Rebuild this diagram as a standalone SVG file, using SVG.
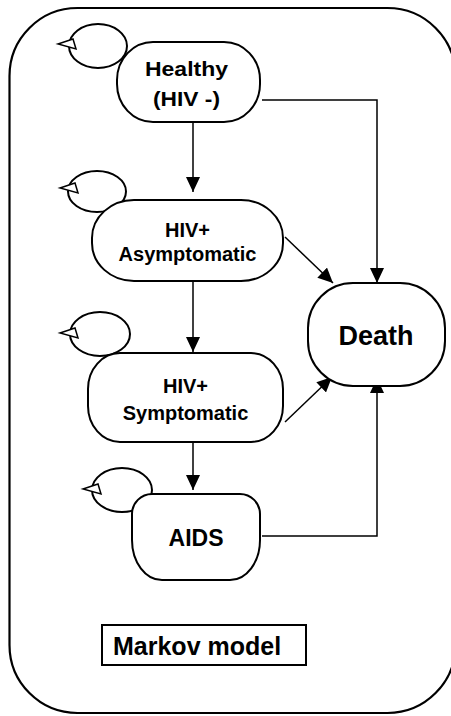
<svg xmlns="http://www.w3.org/2000/svg" width="451" height="716" viewBox="0 0 451 716">
<style>
.frame{fill:none;stroke:#000;stroke-width:2.2}
.node{fill:#fff;stroke:#000;stroke-width:2}
.loop{fill:none;stroke:#000;stroke-width:2}
.loophead{fill:#fff;stroke:#000;stroke-width:1.5;stroke-linejoin:miter}
.edge{fill:none;stroke:#000;stroke-width:1.5}
.t{font-family:"Liberation Sans",Arial,sans-serif;font-weight:bold;fill:#000;text-anchor:middle}
.n{font-size:20px}
</style>
<defs>
<marker id="ah" markerUnits="userSpaceOnUse" markerWidth="15" markerHeight="14" refX="15" refY="7" orient="auto">
<path d="M0,0 L15,7 L0,14 z" fill="#000"/>
</marker>
<polygon id="lh" points="0,0 15,-5 18,5" class="loophead"/>
</defs>
<rect class="frame" x="9.5" y="8" width="446" height="705" rx="68" ry="68"/>
<g id="self-loops">
<ellipse class="loop" cx="98" cy="46" rx="29" ry="22"/>
<use href="#lh" x="58" y="44"/>
<ellipse class="loop" cx="97" cy="191.5" rx="29" ry="20.5"/>
<use href="#lh" x="60" y="188"/>
<ellipse class="loop" cx="100" cy="334" rx="30" ry="22"/>
<use href="#lh" x="60" y="333"/>
<ellipse class="loop" cx="122" cy="490" rx="30" ry="22"/>
<use href="#lh" x="83" y="489"/>
</g>
<g id="connectors">
<line class="edge" x1="193" y1="122" x2="193" y2="192" marker-end="url(#ah)"/>
<line class="edge" x1="193" y1="281" x2="193" y2="352" marker-end="url(#ah)"/>
<line class="edge" x1="193" y1="442" x2="193" y2="490" marker-end="url(#ah)"/>
<polyline class="edge" points="262,100 377,100 377,283" marker-end="url(#ah)"/>
<line class="edge" x1="285" y1="237" x2="333" y2="283" marker-end="url(#ah)"/>
<line class="edge" x1="285" y1="422" x2="332" y2="377" marker-end="url(#ah)"/>
<polyline class="edge" points="262,536 377,536 377,378" marker-end="url(#ah)"/>
</g>
<g id="healthy">
<rect class="node" x="117" y="42" width="143" height="80" rx="36" ry="38"/>
<text class="t n" x="186.5" y="76" textLength="83" lengthAdjust="spacingAndGlyphs">Healthy</text>
<text class="t n" x="186.5" y="106" textLength="67" lengthAdjust="spacingAndGlyphs">(HIV -)</text>
</g>
<g id="asymptomatic">
<rect class="node" x="92" y="200" width="191" height="81" rx="42" ry="38"/>
<text class="t n" x="187.5" y="237">HIV+</text>
<text class="t n" x="187.5" y="261">Asymptomatic</text>
</g>
<g id="symptomatic">
<rect class="node" x="88" y="353" width="195" height="89" rx="32" ry="36"/>
<text class="t n" x="185.5" y="393">HIV+</text>
<text class="t n" x="185.5" y="420">Symptomatic</text>
</g>
<g id="aids">
<path class="node" d="M152,494 H240 A20,20 0 0 1 260,514 V540 A30,40 0 0 1 230,580 H162 A30,40 0 0 1 132,540 V514 A20,20 0 0 1 152,494 Z"/>
<text class="t" x="196" y="546" font-size="23">AIDS</text>
</g>
<g id="death">
<rect class="node" x="308" y="283" width="137" height="103" rx="45" ry="45"/>
<text class="t" x="376" y="345" font-size="27">Death</text>
</g>
<g id="label">
<rect x="102" y="625" width="204" height="40" fill="#fff" stroke="#000" stroke-width="2"/>
<text class="t" x="113" y="655" font-size="25" style="text-anchor:start">Markov model</text>
</g>
</svg>
